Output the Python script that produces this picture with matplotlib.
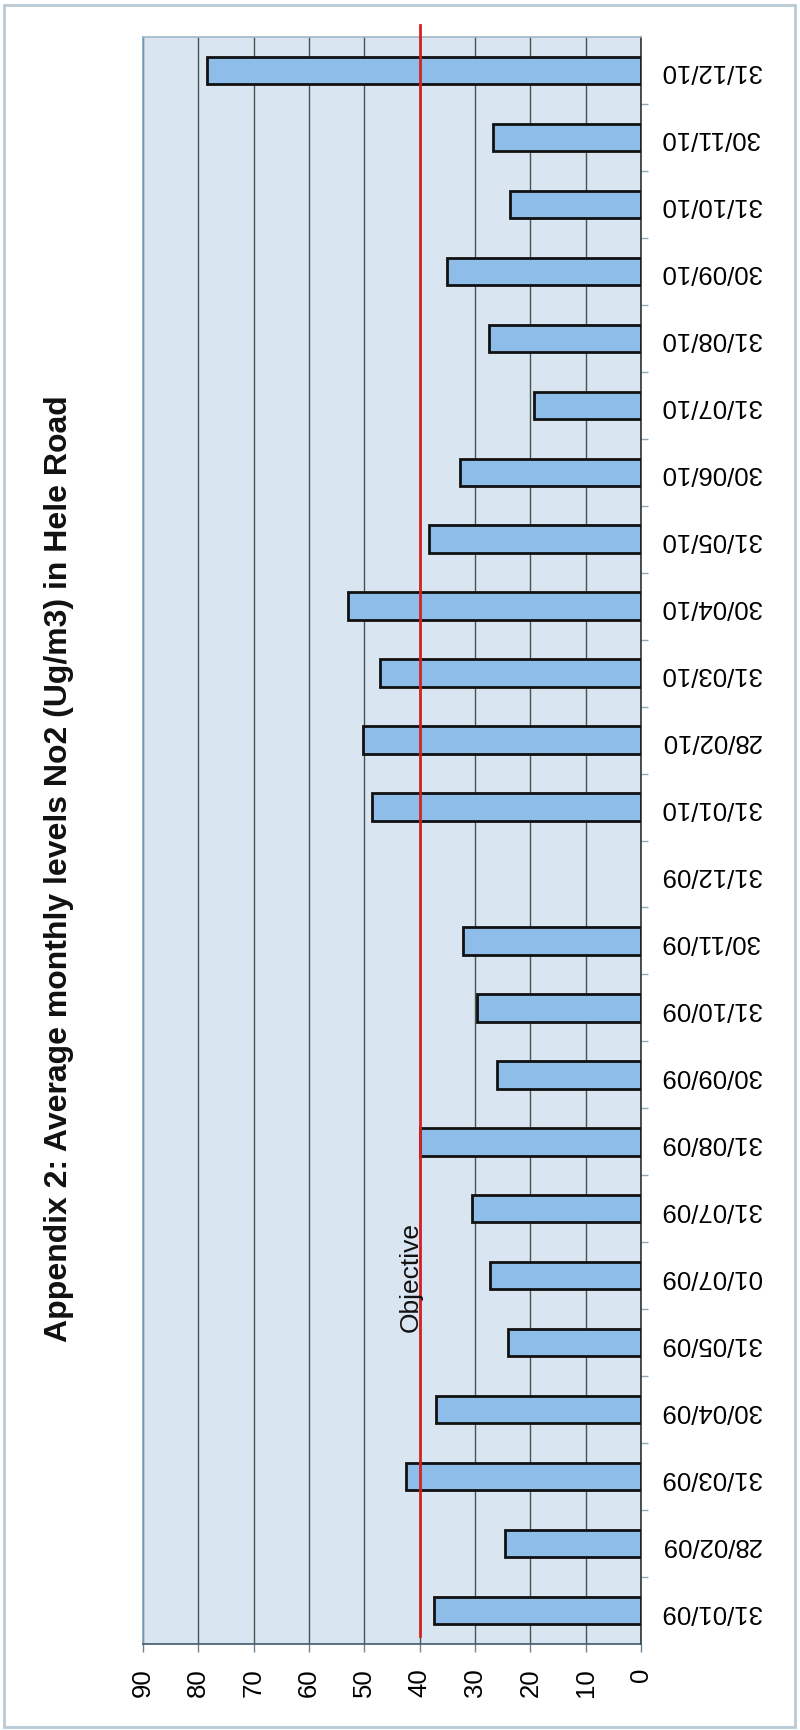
import numpy as np
import matplotlib.pyplot as plt
from matplotlib.patches import Rectangle

# monthly NO2 readings (ug/m3), one per month-end date; 31/12/09 has no reading
dates = ["31/01/09", "28/02/09", "31/03/09", "30/04/09", "31/05/09", "01/07/09",
         "31/07/09", "31/08/09", "30/09/09", "31/10/09", "30/11/09", "31/12/09",
         "31/01/10", "28/02/10", "31/03/10", "30/04/10", "31/05/10", "30/06/10",
         "31/07/10", "31/08/10", "30/09/10", "31/10/10", "30/11/10", "31/12/10"]
no2 = [37.5, 24.6, 42.4, 37.0, 24.1, 27.2,
       30.6, 40.0, 26.1, 29.7, 32.1, np.nan,
       48.7, 50.3, 47.1, 53.0, 38.3, 32.8,
       19.4, 27.5, 35.1, 23.6, 26.8, 78.4]
objective = 40
value_ticks = list(range(0, 100, 10))
title = "Appendix 2: Average monthly levels No2 (Ug/m3) in Hele Road"

plt.rcParams["font.family"] = ["Liberation Sans", "DejaVu Sans"]

W, H = 800, 1731
fig = plt.figure(figsize=(W / 100, H / 100), dpi=100)
fig.patch.set_facecolor("white")

# chart is drawn as the original column chart turned on its side
ax = fig.add_axes([143 / W, 86 / H, 498 / W, 1607 / H])
ax.set_facecolor("#dae5f2")
pos = np.arange(len(dates))

ax.barh(pos, no2, height=0.41, color="#8dbde8", edgecolor="#111111", linewidth=2, zorder=3)
ax.set_xlim(90, 0)
ax.set_ylim(-0.5, len(dates) - 0.5)

ax.set_xticks(value_ticks)
ax.set_xticklabels([str(v) for v in value_ticks], rotation=90, fontsize=18.5)
ax.xaxis.grid(True, color="#44574f", linewidth=1, zorder=0)
ax.set_axisbelow(True)
ax.tick_params(axis="x", length=6, width=1, color="#6b8496", pad=10.5)

ax.yaxis.tick_right()
ax.set_yticks(pos)
ax.set_yticklabels(dates, rotation=180, fontsize=18.5, va="center")
ax.set_yticks(pos[:-1] + 0.5, minor=True)
ax.tick_params(axis="y", which="major", length=0, pad=14)
ax.tick_params(axis="y", which="minor", length=5, width=1, color="#8fa9bb")

ax.spines["right"].set_color("#333333")
ax.spines["bottom"].set_color("#3f5a6a")
ax.spines["left"].set_color("#7fa5bf")
ax.spines["top"].set_color("#9fb8c8")
for s in ax.spines.values():
    s.set_linewidth(1.2)

# objective line and its label
ax.plot([objective, objective], [-0.38, len(dates) - 0.32], color="#d42222",
        linewidth=2, zorder=4, clip_on=False)
ax.text(objective + 0.3, 5.0, "Objective", rotation=90, rotation_mode="anchor",
        ha="center", va="baseline", fontsize=19, color="#111111", zorder=5)

fig.text(67 / W, 1 - 868.5 / H, title, rotation=90, rotation_mode="anchor",
         ha="center", va="baseline", fontsize=23, fontweight="bold", color="#111111")

fig.patches.append(Rectangle((4 / W, 3 / H), 791 / W, 1722 / H, transform=fig.transFigure,
                             fill=False, edgecolor="#b8cad6", linewidth=2))

fig.savefig("out.png", dpi=100)
